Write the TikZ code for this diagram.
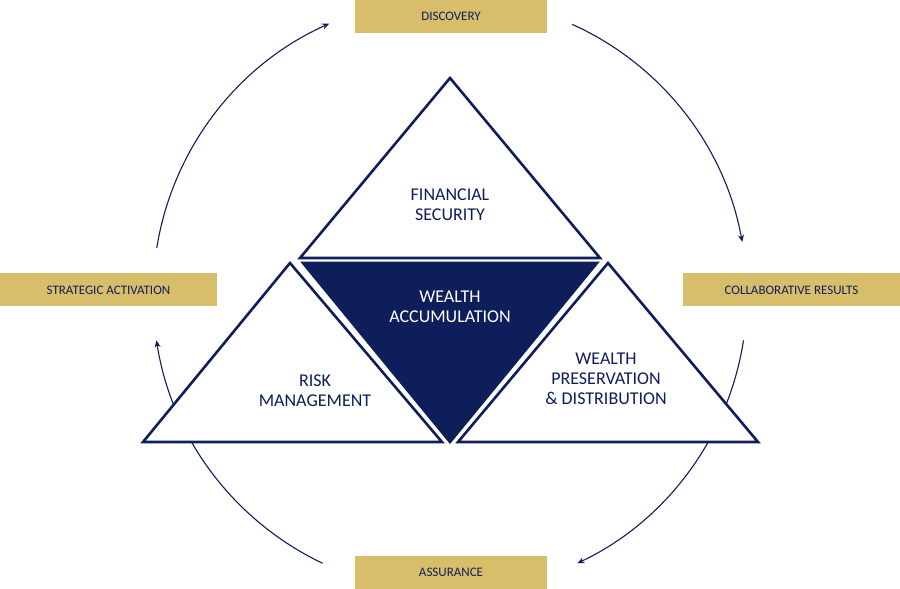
\documentclass[tikz,border=0pt]{standalone}
\usepackage{fontspec}
\setmainfont{Carlito}
\usetikzlibrary{arrows.meta,calc}
\definecolor{navy}{HTML}{0E1E5B}
\definecolor{gold}{HTML}{D8BE6A}
\begin{document}
\begin{tikzpicture}[x=1pt,y=1pt,
 lbl/.style={fill=gold,text=navy,font=\fontsize{13}{15}\selectfont,minimum height=33,inner sep=0,anchor=center},
 tri/.style={draw=navy,line width=2.6pt,fill=white,line join=miter},
 cyc/.style={draw=navy,line width=1.1pt,-{Stealth[length=7pt,width=6pt]}},
 ttx/.style={text=navy,font=\fontsize{18}{20}\selectfont,align=center}]
\useasboundingbox (0,0) rectangle (900,589);
\coordinate (c) at (450,294);
\draw[cyc] ($(c)+(170.9:297)$) arc[start angle=170.9,end angle=114,radius=297];
\draw[cyc] ($(c)+(65.7:297)$) arc[start angle=65.7,end angle=10.3,radius=297];
\draw[cyc] ($(c)+(-8.8:297)$) arc[start angle=-8.8,end angle=-64.6,radius=297];
\draw[cyc] ($(c)+(-115.4:297)$) arc[start angle=-115.4,end angle=-171.2,radius=297];
\node[lbl,minimum width=192] (d) at (451,572.5) {DISCOVERY};
\node[lbl,minimum width=217] (cr) at (791.5,299) {COLLABORATIVE RESULTS};
\node[lbl,minimum width=192] (as) at (451,16.5) {ASSURANCE};
\node[lbl,minimum width=217] (sa) at (108.5,299) {STRATEGIC ACTIVATION};
\draw[tri] (450,511) -- (600,331) -- (300,331) -- cycle;
\draw[tri,fill=navy] (303,326) -- (597,326) -- (450,147) -- cycle;
\draw[tri] (290,326) -- (442,147) -- (143,147) -- cycle;
\draw[tri] (608,326) -- (758,147) -- (458,147) -- cycle;
\node[ttx] (fs) at (450,384) {FINANCIAL\\SECURITY};
\node[ttx,text=white] (wa) at (450,282) {WEALTH\\ACCUMULATION};
\node[ttx] (rm) at (315,198) {RISK\\MANAGEMENT};
\node[ttx] (wp) at (606,210) {WEALTH\\PRESERVATION\\\& DISTRIBUTION};
\end{tikzpicture}
\end{document}
